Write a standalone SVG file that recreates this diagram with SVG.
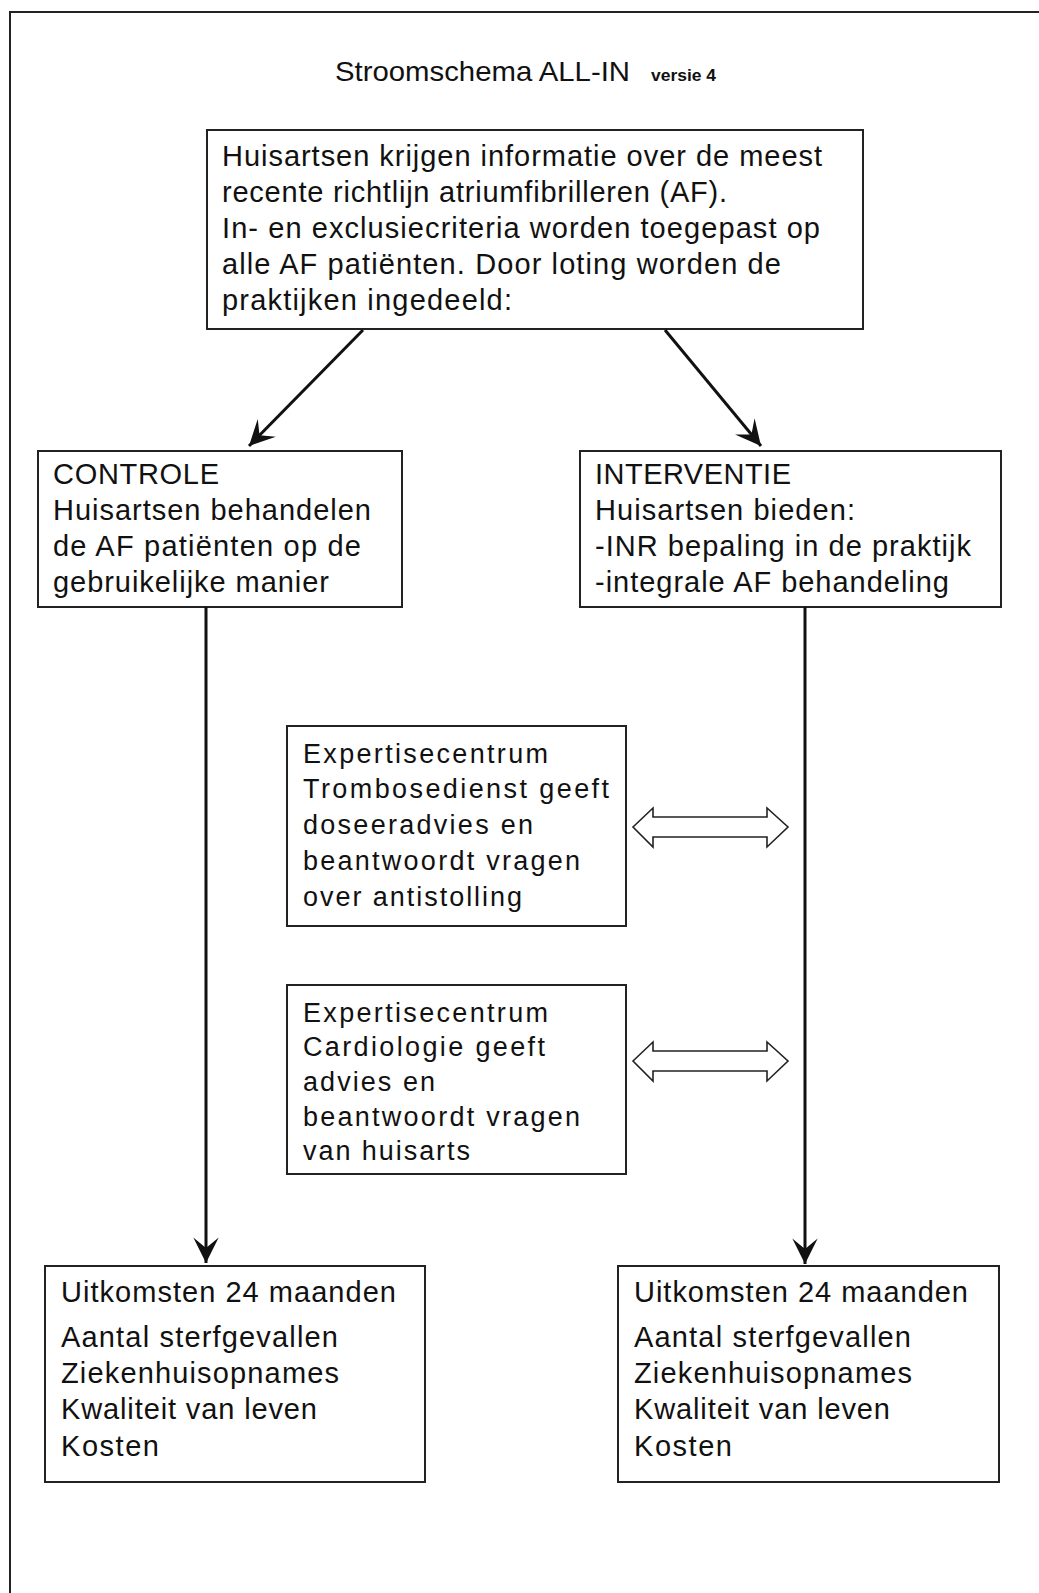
<svg xmlns="http://www.w3.org/2000/svg" width="1039" height="1593" viewBox="0 0 1039 1593">
<style>
text{font-family:"Liberation Sans",Arial,sans-serif;fill:#111;}
.t{font-size:29px;}
.m{font-size:27px;}
.box{fill:#fff;stroke:#222;stroke-width:2;}
.conn{stroke:#111;stroke-width:3;fill:none;}
.dbl{fill:#fff;stroke:#222;stroke-width:1.6;stroke-linejoin:miter;}
</style>
<defs>
<marker id="ah" markerUnits="userSpaceOnUse" markerWidth="30" markerHeight="30" viewBox="-24 -12 26 24" refX="0" refY="0" orient="auto">
<path d="M0,0 L-22,-11 L-13,0 L-22,11 Z" fill="#111"/>
</marker>
</defs>
<rect x="10" y="12" width="1060" height="1620" fill="none" stroke="#222" stroke-width="2"/>
<g id="title">
<text x="335" y="81" font-size="28" textLength="295" lengthAdjust="spacingAndGlyphs">Stroomschema ALL-IN</text>
<text x="651" y="81" font-size="16" font-weight="bold" textLength="65" lengthAdjust="spacingAndGlyphs">versie 4</text>
</g>
<g id="top">
<rect class="box" x="207" y="130" width="656" height="199"/>
<text class="t" x="222" y="166" textLength="600">Huisartsen krijgen informatie over de meest</text>
<text class="t" x="222" y="202" textLength="505">recente richtlijn atriumfibrilleren (AF).</text>
<text class="t" x="222" y="238" textLength="598">In- en exclusiecriteria worden toegepast op</text>
<text class="t" x="222" y="274" textLength="559">alle AF patiënten. Door loting worden de</text>
<text class="t" x="222" y="310" textLength="290">praktijken ingedeeld:</text>
</g>
<g id="controle">
<rect class="box" x="38" y="451" width="364" height="156"/>
<text class="t" x="53" y="484" textLength="166">CONTROLE</text>
<text class="t" x="53" y="520" textLength="318">Huisartsen behandelen</text>
<text class="t" x="53" y="556" textLength="308">de AF patiënten op de</text>
<text class="t" x="53" y="592" textLength="276">gebruikelijke manier</text>
</g>
<g id="interventie">
<rect class="box" x="580" y="451" width="421" height="156"/>
<text class="t" x="595" y="484" textLength="196">INTERVENTIE</text>
<text class="t" x="595" y="520" textLength="260">Huisartsen bieden:</text>
<text class="t" x="595" y="556" textLength="376">-INR bepaling in de praktijk</text>
<text class="t" x="595" y="592" textLength="354">-integrale AF behandeling</text>
</g>
<g id="trombose">
<rect class="box" x="287" y="726" width="339" height="200"/>
<text class="m" x="303" y="763" textLength="245">Expertisecentrum</text>
<text class="m" x="303" y="798" textLength="306">Trombosedienst geeft</text>
<text class="m" x="303" y="834" textLength="230">doseeradvies en</text>
<text class="m" x="303" y="870" textLength="277">beantwoordt vragen</text>
<text class="m" x="303" y="906" textLength="219">over antistolling</text>
</g>
<g id="cardiologie">
<rect class="box" x="287" y="985" width="339" height="189"/>
<text class="m" x="303" y="1022" textLength="245">Expertisecentrum</text>
<text class="m" x="303" y="1056" textLength="242">Cardiologie geeft</text>
<text class="m" x="303" y="1091" textLength="132">advies en</text>
<text class="m" x="303" y="1126" textLength="277">beantwoordt vragen</text>
<text class="m" x="303" y="1160" textLength="167">van huisarts</text>
</g>
<g id="uitkomsten-controle">
<rect class="box" x="45" y="1266" width="380" height="216"/>
<text class="t" x="61" y="1302" textLength="335">Uitkomsten 24 maanden</text>
<text class="t" x="61" y="1347" textLength="277">Aantal sterfgevallen</text>
<text class="t" x="61" y="1383" textLength="278">Ziekenhuisopnames</text>
<text class="t" x="61" y="1419" textLength="256">Kwaliteit van leven</text>
<text class="t" x="61" y="1456" textLength="98">Kosten</text>
</g>
<g id="uitkomsten-interventie">
<rect class="box" x="618" y="1266" width="381" height="216"/>
<text class="t" x="634" y="1302" textLength="334">Uitkomsten 24 maanden</text>
<text class="t" x="634" y="1347" textLength="277">Aantal sterfgevallen</text>
<text class="t" x="634" y="1383" textLength="278">Ziekenhuisopnames</text>
<text class="t" x="634" y="1419" textLength="256">Kwaliteit van leven</text>
<text class="t" x="634" y="1456" textLength="98">Kosten</text>
</g>
<g id="connectors">
<line class="conn" x1="363" y1="330" x2="249" y2="446" marker-end="url(#ah)"/>
<line class="conn" x1="665" y1="330" x2="761" y2="446" marker-end="url(#ah)"/>
<line class="conn" x1="206" y1="607" x2="206" y2="1263" marker-end="url(#ah)"/>
<line class="conn" x1="805" y1="607" x2="805" y2="1264" marker-end="url(#ah)"/>
<polygon class="dbl" points="633,827 653,808 653,817 767,817 767,808 788,827 767,847 767,837 653,837 653,847"/>
<polygon class="dbl" points="633,1061 653,1042 653,1051 767,1051 767,1042 788,1061 767,1081 767,1071 653,1071 653,1081"/>
</g>
</svg>
